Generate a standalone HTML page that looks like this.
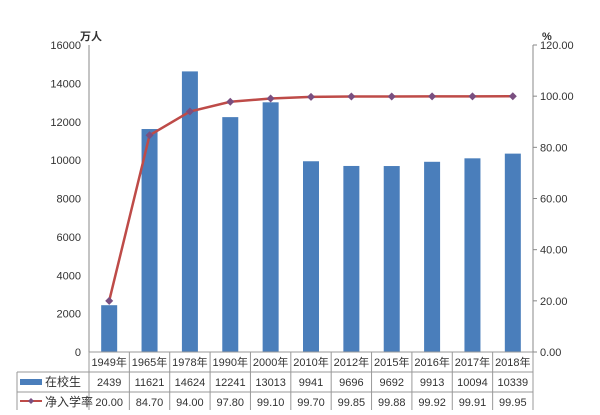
<!DOCTYPE html>
<html><head><meta charset="utf-8"><style>
body{margin:0;background:#fff;width:600px;height:410px;overflow:hidden}
svg text{font-family:"Liberation Sans","Noto Sans CJK SC",sans-serif;fill:#333}
</style></head><body>
<svg id="c" width="600" height="410"></svg>
<script>
const categories=["1949年","1965年","1978年","1990年","2000年","2010年","2012年","2015年","2016年","2017年","2018年"];
const students=[2439,11621,14624,12241,13013,9941,9696,9692,9913,10094,10339];
const rates=[20.00,84.70,94.00,97.80,99.10,99.70,99.85,99.88,99.92,99.91,99.95];
const leftTicks=[0,2000,4000,6000,8000,10000,12000,14000,16000];
const rightTicks=[0,20,40,60,80,100,120];
const svg=document.getElementById('c');const NS='http://www.w3.org/2000/svg';
const L=89,R=533,T=45,B=352,n=categories.length,bw=(R-L)/n;
const yL=v=>B-(v/16000)*(B-T), yR=v=>B-(v/120)*(B-T), xc=i=>L+bw*(i+0.5);
function mk(tag,a,txt){const e=document.createElementNS(NS,tag);for(const k in a)e.setAttribute(k,a[k]);if(txt!=null)e.textContent=txt;svg.appendChild(e);return e;}
let e;
e=mk('line',{x1:L,y1:T,x2:L,y2:B,stroke:'#888'});


e=mk('line',{x1:R,y1:T,x2:R,y2:B,stroke:'#888'});


leftTicks.forEach(v=>{e=mk('text',{x:L-8,y:yL(v)+4,'font-size':11,'text-anchor':'end'},v);

});
rightTicks.forEach(v=>{mk('line',{x1:R,y1:yR(v),x2:R+4,y2:yR(v),stroke:'#888'});e=mk('text',{x:R+7,y:yR(v)+4,'font-size':11},v.toFixed(2));

});
e=mk('text',{x:80,y:40,'font-size':11,'font-weight':'bold'},'万人');


e=mk('text',{x:542,y:40,'font-size':11,'font-weight':'bold'},'%');


students.forEach((v,i)=>{e=mk('rect',{x:xc(i)-8,y:yL(v),width:16,height:B-yL(v),fill:'#4a7ebb'});

});
e=mk('polyline',{points:rates.map((v,i)=>xc(i)+','+yR(v)).join(' '),fill:'none',stroke:'#be4b48','stroke-width':2.5});


rates.forEach((v,i)=>{e=mk('path',{d:`M${xc(i)} ${yR(v)-4}l4 4l-4 4l-4-4z`,fill:'#7a4f80'});

});
// table
const rows=[352,372,392,411],TL=17;
mk('line',{x1:L,y1:rows[0],x2:R,y2:rows[0],stroke:'#999'});
for(let r=1;r<4;r++)mk('line',{x1:TL,y1:rows[r],x2:R,y2:rows[r],stroke:'#999'});
mk('line',{x1:TL,y1:rows[1],x2:TL,y2:rows[3],stroke:'#999'});
for(let i=0;i<=n;i++)mk('line',{x1:L+bw*i,y1:rows[0],x2:L+bw*i,y2:rows[3],stroke:'#999'});
categories.forEach((c,i)=>{e=mk('text',{x:xc(i),y:366,'font-size':11,'text-anchor':'middle'},c);


e=mk('text',{x:xc(i),y:386,'font-size':11,'text-anchor':'middle'},students[i]);


e=mk('text',{x:xc(i),y:406,'font-size':11,'text-anchor':'middle'},rates[i].toFixed(2));

});
mk('rect',{x:20,y:379,width:22,height:6,fill:'#4a7ebb'});
e=mk('text',{x:45,y:386,'font-size':12},'在校生');


mk('line',{x1:20,y1:401,x2:42,y2:401,stroke:'#be4b48','stroke-width':2});
mk('path',{d:'M31 398l3 3l-3 3l-3-3z',fill:'#7a4f80'});
e=mk('text',{x:45,y:406,'font-size':12},'净入学率');


</script>
</body></html>
